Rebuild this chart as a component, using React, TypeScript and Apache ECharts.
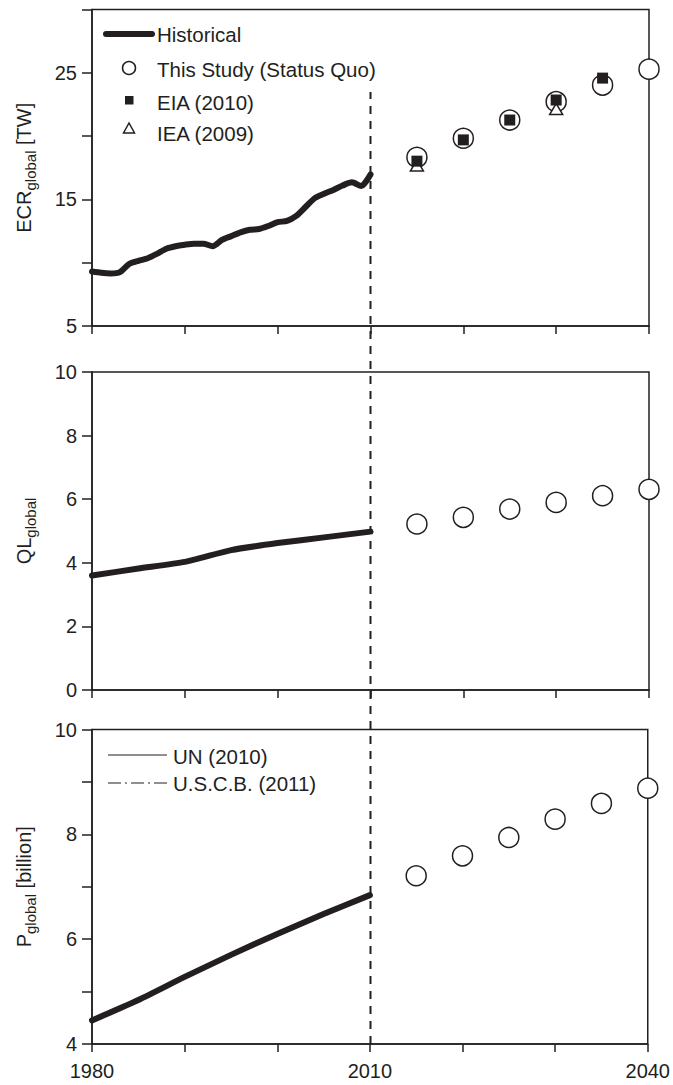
import React, { useEffect, useRef } from "react";
import * as echarts from "echarts";

const INK = "#231f20";
const FONT = "'Liberation Sans', Arial, Helvetica, sans-serif";

// ---- data ----
const histYears = [1980, 1981, 1982, 1983, 1984, 1985, 1986, 1987, 1988, 1989, 1990, 1991, 1992, 1993, 1994, 1995, 1996, 1997, 1998, 1999, 2000, 2001, 2002, 2003, 2004, 2005, 2006, 2007, 2008, 2009, 2010];
const ecrHistorical = [9.3, 9.2, 9.15, 9.25, 9.9, 10.15, 10.35, 10.7, 11.1, 11.3, 11.42, 11.5, 11.5, 11.3, 11.8, 12.1, 12.4, 12.6, 12.66, 12.9, 13.2, 13.3, 13.7, 14.4, 15.1, 15.45, 15.75, 16.1, 16.35, 16.05, 16.97];
const projYears = [2015, 2020, 2025, 2030, 2035, 2040];
const ecrThisStudy = [18.33, 19.83, 21.27, 22.72, 24.03, 25.29];
const eiaYears = [2015, 2020, 2025, 2030, 2035];
const ecrEIA = [18.02, 19.7, 21.27, 22.85, 24.58];
const ieaYears = [2015, 2030];
const ecrIEA = [17.68, 22.14];
const qlYears = [1980, 1985, 1990, 1995, 2000, 2005, 2010];
const qlHistorical = [3.6, 3.82, 4.03, 4.4, 4.62, 4.8, 4.98];
const qlThisStudy = [5.22, 5.43, 5.69, 5.9, 6.11, 6.31];
const popYears = [1980, 1985, 1990, 1995, 2000, 2005, 2010];
const popHistorical = [4.45, 4.84, 5.28, 5.7, 6.1, 6.48, 6.84];
const popThisStudy = [7.21, 7.59, 7.94, 8.29, 8.59, 8.88];
const xTickLabels = [1980, 2010, 2040];
const ecrTickLabels = [5, 15, 25];
const popTickLabels = [4, 6, 8, 10];
const dividerYear = 2010;

const zip = (xs: number[], ys: number[]) => xs.map((x, i) => [x, ys[i]]);

export default function App() {
  const ref = useRef<HTMLDivElement>(null);
  useEffect(() => {
    if (!ref.current) return;
    const chart = echarts.init(ref.current, null, { renderer: "svg" });

    const gridBase = { left: 92, right: 24, show: true, borderColor: INK, borderWidth: 1.5, backgroundColor: "transparent" };
    const grids = [
      { ...gridBase, top: 9.5, height: 316.5 },
      { ...gridBase, top: 372, height: 318 },
      { ...gridBase, top: 729.5, height: 314.5 },
      { left: 92, right: 24, top: 92, height: 952, show: false },
    ];

    const mkX = (i: number, showLabels: boolean) => ({
      type: "value",
      gridIndex: i,
      min: 1980,
      max: 2040,
      interval: 10,
      axisLine: { show: true, lineStyle: { color: INK, width: 1.5 } },
      axisTick: { show: true, length: 8, lineStyle: { color: INK, width: 1.5 } },
      axisLabel: {
        show: showLabels,
        margin: 17,
        color: INK,
        fontSize: 20,
        fontFamily: FONT,
        formatter: (v: number) => (xTickLabels.includes(v) ? String(v) : ""),
      },
      splitLine: { show: false },
    });

    const rich = {
      a: { fontSize: 20, fontFamily: FONT, color: INK, lineHeight: 28 },
      b: { fontSize: 15, fontFamily: FONT, color: INK, lineHeight: 15, verticalAlign: "bottom" },
    };

    const mkY = (i: number, min: number, max: number, interval: number, labels: number[] | null, name: string) => ({
      type: "value",
      gridIndex: i,
      min,
      max,
      interval,
      name,
      nameLocation: "middle",
      nameRotate: 90,
      nameGap: 54,
      nameTextStyle: { rich },
      axisLine: { show: true, lineStyle: { color: INK, width: 1.5 } },
      axisTick: { show: true, length: 10, lineStyle: { color: INK, width: 1.5 } },
      axisLabel: {
        margin: 15,
        color: INK,
        fontSize: 20,
        fontFamily: FONT,
        formatter: (v: number) => (labels === null || labels.includes(v) ? String(v) : ""),
      },
      splitLine: { show: false },
    });

    const histLine = (i: number, data: number[][], smooth: number) => ({
      type: "line",
      xAxisIndex: i,
      yAxisIndex: i,
      data,
      smooth,
      symbol: "none",
      lineStyle: { color: INK, width: 6, cap: "round", join: "round" },
      z: 3,
    });

    const circles = (i: number, data: number[][]) => ({
      type: "scatter",
      xAxisIndex: i,
      yAxisIndex: i,
      data,
      symbol: "circle",
      symbolSize: 20,
      clip: false,
      itemStyle: { color: "#ffffff", borderColor: INK, borderWidth: 1.5, opacity: 1 },
      z: 4,
    });

    chart.setOption({
      animation: false,
      grid: grids,
      xAxis: [mkX(0, false), mkX(1, false), mkX(2, true), { type: "value", gridIndex: 3, min: 1980, max: 2040, show: false }],
      yAxis: [
        mkY(0, 5, 30, 5, ecrTickLabels, "{a|ECR}{b|global}{a| [TW]}"),
        mkY(1, 0, 10, 2, null, "{a|QL}{b|global}"),
        mkY(2, 4, 10, 1, popTickLabels, "{a|P}{b|global}{a| [billion]}"),
        { type: "value", gridIndex: 3, min: 0, max: 1, show: false },
      ],
      series: [
        histLine(0, zip(histYears, ecrHistorical), 0.25),
        circles(0, zip(projYears, ecrThisStudy)),
        {
          type: "scatter",
          xAxisIndex: 0,
          yAxisIndex: 0,
          data: zip(ieaYears, ecrIEA),
          symbol: "triangle",
          symbolSize: [13, 11],
          clip: false,
          itemStyle: { color: "#ffffff", borderColor: INK, borderWidth: 1.5, opacity: 1 },
          z: 5,
        },
        {
          type: "scatter",
          xAxisIndex: 0,
          yAxisIndex: 0,
          data: zip(eiaYears, ecrEIA),
          symbol: "rect",
          symbolSize: 11,
          clip: false,
          itemStyle: { color: INK, opacity: 1 },
          z: 6,
        },
        histLine(1, zip(qlYears, qlHistorical), 0.2),
        circles(1, zip(projYears, qlThisStudy)),
        histLine(2, zip(popYears, popHistorical), 0.2),
        circles(2, zip(projYears, popThisStudy)),
        {
          type: "line",
          xAxisIndex: 3,
          yAxisIndex: 3,
          data: [[dividerYear, 0], [dividerYear, 1]],
          symbol: "none",
          clip: false,
          lineStyle: { color: INK, width: 2, type: [8, 7] },
          z: 2,
        },
      ],
      graphic: [
        { type: "line", shape: { x1: 106, y1: 34, x2: 152, y2: 34 }, style: { stroke: INK, lineWidth: 6, lineCap: "round" } },
        { type: "text", x: 157, y: 34, style: { text: "Historical", fontSize: 20.5, fontFamily: FONT, fill: INK, verticalAlign: "middle" } },
        { type: "circle", shape: { cx: 129, cy: 68, r: 6.5 }, style: { fill: "#ffffff", stroke: INK, lineWidth: 1.5 } },
        { type: "text", x: 157, y: 69, style: { text: "This Study (Status Quo)", fontSize: 20.5, fontFamily: FONT, fill: INK, verticalAlign: "middle" } },
        { type: "rect", shape: { x: 125, y: 96, width: 8.5, height: 8.5 }, style: { fill: INK } },
        { type: "text", x: 157, y: 102, style: { text: "EIA (2010)", fontSize: 20.5, fontFamily: FONT, fill: INK, verticalAlign: "middle" } },
        { type: "polygon", shape: { points: [[129, 123], [123.5, 133], [134.5, 133]] }, style: { fill: "#ffffff", stroke: INK, lineWidth: 1.5 } },
        { type: "text", x: 157, y: 133, style: { text: "IEA (2009)", fontSize: 20.5, fontFamily: FONT, fill: INK, verticalAlign: "middle" } },
        { type: "line", shape: { x1: 108, y1: 755, x2: 167, y2: 755 }, style: { stroke: INK, lineWidth: 1.2 } },
        { type: "text", x: 173, y: 756, style: { text: "UN (2010)", fontSize: 20.5, fontFamily: FONT, fill: INK, verticalAlign: "middle" } },
        { type: "line", shape: { x1: 108, y1: 783, x2: 167, y2: 783 }, style: { stroke: INK, lineWidth: 1.2, lineDash: [13, 4, 2, 4] } },
        { type: "text", x: 173, y: 783, style: { text: "U.S.C.B. (2011)", fontSize: 20.5, fontFamily: FONT, fill: INK, verticalAlign: "middle" } },
      ],
    });
    return () => chart.dispose();
  }, []);

  return <div ref={ref} style={{ position: "fixed", left: 0, top: 0, width: 673, height: 1085, background: "#ffffff" }} />;
}
